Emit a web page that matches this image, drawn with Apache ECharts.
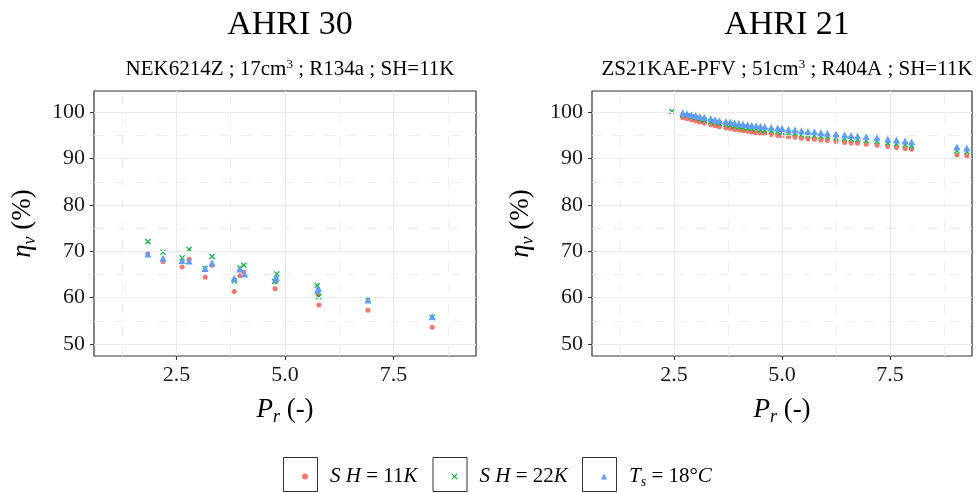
<!DOCTYPE html>
<html>
<head>
<meta charset="utf-8">
<script src="https://cdn.jsdelivr.net/npm/echarts@6/dist/echarts.min.js"></script>
<style>
html,body{margin:0;padding:0;background:#fff;}
#chart{width:976px;height:493px;}
</style>
</head>
<body>
<div id="chart"></div>
<script>
// ---------- data ----------
var seriesNames = ['SH = 11K', 'SH = 22K', 'Ts = 18°C'];
var panelTitles = ['AHRI 30', 'AHRI 21'];

var xTicks = [2.5, 5.0, 7.5];
var xMinor = [1.25, 3.75, 6.25, 8.75];
var yTicks = [50, 60, 70, 80, 90, 100];
var yMinor = [55, 65, 75, 85, 95];

// AHRI 30
var l_sh11_x = [1.84, 2.19, 2.63, 2.79, 3.16, 3.32, 3.83, 3.96, 4.05, 4.77, 4.79, 5.76, 5.78, 6.91, 8.39];
var l_sh11_y = [69.5, 67.8, 66.6, 68.3, 64.4, 67.0, 61.3, 64.7, 65.5, 61.9, 63.5, 60.7, 58.4, 57.3, 53.6];
var l_sh22_x = [1.84, 2.19, 2.63, 2.79, 3.16, 3.32, 3.83, 3.96, 4.05, 4.76, 4.81, 5.74, 5.78, 6.91, 8.39];
var l_sh22_y = [72.1, 69.8, 68.6, 70.4, 66.3, 68.9, 63.6, 66.4, 67.0, 63.5, 65.1, 62.6, 60.2, 59.5, 55.7];
var l_ts_x   = [1.84, 2.19, 2.63, 2.79, 3.16, 3.32, 3.83, 3.96, 4.07, 4.78, 4.80, 5.75, 5.77, 6.91, 8.39];
var l_ts_y   = [69.4, 68.5, 68.0, 67.9, 66.3, 67.5, 64.2, 66.2, 65.1, 64.0, 64.4, 61.6, 62.0, 59.5, 55.9];

// AHRI 21
var r_sh11_x = [2.7, 2.8, 2.9, 3.0, 3.1, 3.2, 3.35, 3.45, 3.55, 3.7, 3.8, 3.9, 4.0, 4.1, 4.2, 4.3, 4.4, 4.5, 4.6, 4.75, 4.9, 5.0, 5.15, 5.3, 5.45, 5.6, 5.75, 5.9, 6.05, 6.25, 6.45, 6.6, 6.75, 6.95, 7.2, 7.45, 7.65, 7.85, 8.0, 9.05, 9.28];
var r_sh11_y = [98.8, 98.6, 98.4, 98.1, 97.9, 97.7, 97.3, 97.1, 96.9, 96.6, 96.5, 96.3, 96.2, 96.0, 95.9, 95.7, 95.6, 95.5, 95.4, 95.2, 95.0, 94.9, 94.7, 94.6, 94.4, 94.3, 94.2, 94.0, 93.9, 93.7, 93.5, 93.4, 93.3, 93.1, 92.9, 92.6, 92.4, 92.2, 92.0, 90.8, 90.6];
var r_sh22_x = [2.45, 2.7, 2.8, 2.9, 3.0, 3.1, 3.2, 3.35, 3.45, 3.55, 3.7, 3.8, 3.9, 4.0, 4.1, 4.2, 4.3, 4.4, 4.5, 4.6, 4.75, 4.9, 5.0, 5.15, 5.3, 5.45, 5.6, 5.75, 5.9, 6.05, 6.25, 6.45, 6.6, 6.75, 6.95, 7.2, 7.45, 7.65, 7.85, 8.0, 9.05, 9.28];
var r_sh22_y = [100.2, 99.5, 99.3, 99.0, 98.8, 98.5, 98.3, 98.0, 97.8, 97.6, 97.4, 97.2, 97.0, 96.9, 96.7, 96.6, 96.5, 96.4, 96.2, 96.1, 96.0, 95.8, 95.7, 95.5, 95.4, 95.2, 95.1, 95.0, 94.8, 94.7, 94.5, 94.3, 94.2, 94.1, 93.9, 93.7, 93.4, 93.2, 93.0, 92.8, 91.7, 91.5];
var r_ts_x   = [2.7, 2.8, 2.9, 3.0, 3.1, 3.2, 3.35, 3.45, 3.55, 3.7, 3.8, 3.9, 4.0, 4.1, 4.2, 4.3, 4.4, 4.5, 4.6, 4.75, 4.9, 5.0, 5.15, 5.3, 5.45, 5.6, 5.75, 5.9, 6.05, 6.25, 6.45, 6.6, 6.75, 6.95, 7.2, 7.45, 7.65, 7.85, 8.0, 9.05, 9.28];
var r_ts_y   = [99.9, 99.7, 99.5, 99.3, 99.1, 98.9, 98.6, 98.4, 98.2, 98.0, 97.9, 97.7, 97.6, 97.4, 97.3, 97.2, 97.1, 97.0, 96.9, 96.7, 96.6, 96.5, 96.3, 96.2, 96.0, 95.9, 95.8, 95.6, 95.5, 95.3, 95.1, 95.0, 94.9, 94.7, 94.5, 94.2, 94.0, 93.8, 93.6, 92.5, 92.3];

// ---------- build ----------
function zip(xs, ys){ return xs.map(function(x,i){ return [x, ys[i]]; }); }

var colors = ['#F8766D', '#00BA38', '#619CFF'];
var crossPath = 'path://M0,1.4 L1.4,0 L5,3.6 L8.6,0 L10,1.4 L6.4,5 L10,8.6 L8.6,10 L5,6.4 L1.4,10 L0,8.6 L3.6,5 Z';
var symbols = ['circle', crossPath, 'triangle'];
var symSizes = [5, 6, 7];

var panels = [
  [zip(l_sh11_x, l_sh11_y), zip(l_sh22_x, l_sh22_y), zip(l_ts_x, l_ts_y)],
  [zip(r_sh11_x, r_sh11_y), zip(r_sh22_x, r_sh22_y), zip(r_ts_x, r_ts_y)]
];

var FONT = 'Liberation Serif';
var TXT = '#1a1a1a';
var grids = [
  {left: 94, top: 91, width: 382, height: 265},
  {left: 592, top: 91, width: 380, height: 265}
];

var xAxes = [], yAxes = [], series = [], titles = [];
var subTitles = ['NEK6214Z ; 17cm{sup|3} ; R134a ; SH=11K', 'ZS21KAE-PFV ; 51cm{sup|3} ; R404A ; SH=11K'];

grids.forEach(function(g, gi){
  g.show = true; g.borderColor = '#333'; g.borderWidth = 1.2; g.backgroundColor = 'transparent';
  g.containLabel = false;
  xAxes.push({
    type: 'value', gridIndex: gi, min: 0.6, max: 9.4,
    name: '{i|P}{sub|r} (-)', nameLocation: 'middle', nameGap: 38,
    nameTextStyle: {fontFamily: FONT, fontSize: 27, color: '#000',
      rich: {i: {fontFamily: FONT, fontStyle: 'italic', fontSize: 27, color: '#000'},
             sub: {fontFamily: FONT, fontStyle: 'italic', fontSize: 18, color: '#000', padding: [14, 0, 0, 0]}}},
    axisLine: {show: false},
    axisTick: {show: true, length: 4, customValues: xTicks, lineStyle: {color: '#333', width: 1.1}},
    axisLabel: {customValues: xTicks, margin: 8, fontFamily: FONT, fontSize: 22, color: TXT,
      formatter: function(v){ return v.toFixed(1); }},
    splitLine: {show: false}
  });
  yAxes.push({
    type: 'value', gridIndex: gi, min: 47.4, max: 104.6,
    name: '{i|η}{sub|v} (%)', nameLocation: 'middle', nameGap: 55, nameRotate: 90,
    nameTextStyle: {fontFamily: FONT, fontSize: 27, color: '#000',
      rich: {i: {fontFamily: FONT, fontStyle: 'italic', fontSize: 27, color: '#000'},
             sub: {fontFamily: FONT, fontStyle: 'italic', fontSize: 18, color: '#000', padding: [14, 0, 0, 0]}}},
    axisLine: {show: false},
    axisTick: {show: true, length: 4, customValues: yTicks, lineStyle: {color: '#333', width: 1.1}},
    axisLabel: {customValues: yTicks, margin: 9, fontFamily: FONT, fontSize: 22, color: TXT},
    splitLine: {show: false}
  });
  // grid lines (drawn from tick arrays through the axes)
  var ml = [];
  xMinor.forEach(function(v){ ml.push({xAxis: v, lineStyle: {color: '#ebebeb', width: 0.8, type: [10, 11]}}); });
  yMinor.forEach(function(v){ ml.push({yAxis: v, lineStyle: {color: '#ebebeb', width: 0.8, type: [10, 11]}}); });
  xTicks.forEach(function(v){ ml.push({xAxis: v, lineStyle: {color: '#ebebeb', width: 1.2, type: 'solid'}}); });
  yTicks.forEach(function(v){ ml.push({yAxis: v, lineStyle: {color: '#ebebeb', width: 1.2, type: 'solid'}}); });
  series.push({
    type: 'scatter', xAxisIndex: gi, yAxisIndex: gi, data: [], z: 0, silent: true,
    markLine: {silent: true, symbol: ['none', 'none'], label: {show: false}, animation: false, data: ml}
  });
  panels[gi].forEach(function(d, si){
    series.push({
      name: seriesNames[si], type: 'scatter', xAxisIndex: gi, yAxisIndex: gi,
      data: d, symbol: symbols[si], symbolSize: symSizes[si], z: 3 + si,
      itemStyle: {color: colors[si], opacity: 1}, animation: false
    });
  });
  var cx = g.left + g.width / 2;
  titles.push({text: panelTitles[gi], left: cx, top: 3, textAlign: 'center',
    textStyle: {fontFamily: FONT, fontSize: 34, fontWeight: 'normal', color: '#000'}});
  titles.push({text: subTitles[gi], left: cx, top: 53, textAlign: 'center',
    textStyle: {fontFamily: FONT, fontSize: 21, fontWeight: 'normal', color: '#000',
      rich: {sup: {fontFamily: FONT, fontSize: 13, color: '#000', verticalAlign: 'top', padding: [0, 0, 9, 0]}}}});
});

var legendRich = {
  i: {fontFamily: FONT, fontStyle: 'italic', fontSize: 21, color: '#000'},
  n: {fontFamily: FONT, fontSize: 21, color: '#000'},
  sub: {fontFamily: FONT, fontStyle: 'italic', fontSize: 14, color: '#000', padding: [12, 0, 0, 0]}
};
function legendFmt(name){
  if (name === 'SH = 11K') return '{i|S H}{n| = 11}{i|K}';
  if (name === 'SH = 22K') return '{i|S H}{n| = 22}{i|K}';
  return '{i|T}{sub|s}{n| = 18°}{i|C}';
}
var legendLefts = [297, 446.5, 596];
var legends = seriesNames.map(function(n, i){
  return {
    data: [{name: n, icon: symbols[i]}], left: legendLefts[i], top: 461, orient: 'horizontal',
    itemWidth: 6, itemHeight: 6, selectedMode: false, formatter: legendFmt,
    textStyle: {fontFamily: FONT, fontSize: 21, color: '#000', padding: [0, 0, 0, 17], rich: legendRich}
  };
});
var boxes = [283, 432.5, 582].map(function(x){
  return {type: 'rect', left: x, top: 457, shape: {width: 34, height: 34},
    style: {fill: '#fff', stroke: '#333', lineWidth: 1}, z: -1, silent: true};
});

var chart = echarts.init(document.getElementById('chart'), null, {renderer: 'canvas'});
chart.setOption({
  backgroundColor: '#fff',
  animation: false,
  title: titles,
  grid: grids,
  xAxis: xAxes,
  yAxis: yAxes,
  legend: legends,
  graphic: {elements: boxes},
  series: series
});
</script>
</body>
</html>
